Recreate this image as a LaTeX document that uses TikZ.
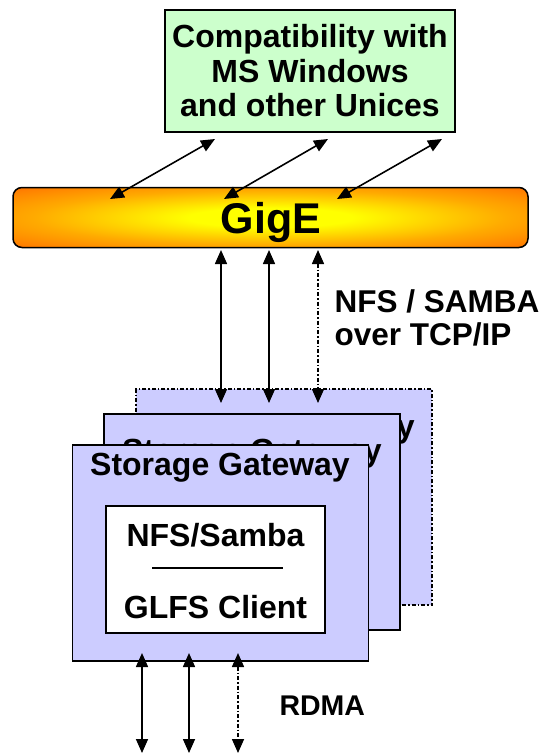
\documentclass[tikz,border=0pt]{standalone}
\usepackage{fontspec}
\setmainfont{Liberation Sans}
\usetikzlibrary{arrows.meta}
\definecolor{topgreen}{HTML}{CCFFCC}
\definecolor{lav}{HTML}{CCCCFF}
\definecolor{gA}{HTML}{FFFF00}
\definecolor{gB}{HTML}{FFDD00}
\definecolor{gC}{HTML}{FFAA00}
\definecolor{gD}{HTML}{FF8000}
\definecolor{gE}{HTML}{FF4400}
\definecolor{gF}{HTML}{FF3300}
\pgfdeclareradialshading{gigeshade}{\pgfpoint{0bp}{0bp}}{color(0bp)=(gA); color(8bp)=(gA); color(14bp)=(gB); color(23bp)=(gC); color(33bp)=(gD); color(41bp)=(gE); color(50bp)=(gF); color(75bp)=(gF)}
\tikzset{
  bf/.style={font=\bfseries\fontsize{#1}{#1}\selectfont},
  gwbox/.style={fill=lav, minimum width=296pt, minimum height=216pt, inner sep=0pt},
  arr/.style={line width=1.6pt, {Triangle[length=14pt,width=12pt]}-{Triangle[length=14pt,width=12pt]}},
  dd/.style={dash pattern=on 4pt off 2pt on 1.5pt off 2pt},
}
\begin{document}
\begin{tikzpicture}[x=1pt,y=-1pt]
\useasboundingbox (0,0) rectangle (549,756);
% top box
\node[draw, line width=1.5pt, fill=topgreen, minimum width=290pt, minimum height=122pt, inner sep=0pt, align=center, font=\bfseries\fontsize{32}{34.5}\selectfont] (compat) at (310,71) {Compatibility with\\MS Windows\\and other Unices};
% GigE bar
\node[draw, line width=1.5pt, rounded corners=9pt, shading=gigeshade, minimum width=515pt, minimum height=60pt, inner sep=0pt] (gige) at (270.5,217.5) {};
\node[bf=43, anchor=base] (gigetxt) at (271,233) {GigE};
% storage gateway stack
\node[gwbox, draw, line width=1.3pt, dd] (gwback) at (284,497) {};
\node[bf=32, anchor=base] (gwbacktxt) at (285,437.5) {Storage Gateway};
\node[gwbox, draw, line width=1.5pt] (gwmid) at (252,522) {};
\node[bf=32, anchor=base] (gwmidtxt) at (252,461.5) {Storage Gateway};
\node[gwbox, draw, line width=1.5pt] (gwfront) at (220.5,553) {};
\node[bf=32, anchor=base] (gwfronttxt) at (220,475) {Storage Gateway};
\node[draw, fill=white, line width=1.5pt, minimum width=219pt, minimum height=127pt, inner sep=0pt] (inner) at (215.5,569.5) {};
\node[bf=32, anchor=base] (nfs) at (215.5,546) {NFS/Samba};
\node[bf=32, anchor=base] (glfs) at (215.5,618) {GLFS Client};
\coordinate (sepL) at (152,568);
\coordinate (sepR) at (283,568);
\draw[line width=1.2pt] (sepL) -- (sepR);
% labels
\node[bf=31.5, anchor=base west] (tcp) at (331,312) {NFS / SAMBA};
\node[bf=31.5, anchor=base west] (tcp2) at (331,345) {over TCP/IP};
\node[bf=28.5, anchor=base west] (rdma) at (276,715) {RDMA};
% top arrows
\coordinate (a1b) at (110,199); \coordinate (a1t) at (215,139);
\coordinate (a2b) at (224,199); \coordinate (a2t) at (328,139);
\coordinate (a3b) at (337,199); \coordinate (a3t) at (442,139);
\draw[arr] (a1b) -- (a1t);
\draw[arr] (a2b) -- (a2t);
\draw[arr] (a3b) -- (a3t);
% middle arrows
\coordinate (m1t) at (221,250); \coordinate (m1b) at (221,403);
\coordinate (m2t) at (269,250); \coordinate (m2b) at (269,403);
\coordinate (m3t) at (318,250); \coordinate (m3b) at (318,403);
\draw[arr] (m1t) -- (m1b);
\draw[arr] (m2t) -- (m2b);
\draw[arr, dd] (m3t) -- (m3b);
% bottom arrows
\coordinate (b1t) at (142,653); \coordinate (b1b) at (142,753);
\coordinate (b2t) at (189,653); \coordinate (b2b) at (189,753);
\coordinate (b3t) at (238,653); \coordinate (b3b) at (238,753);
\draw[arr] (b1t) -- (b1b);
\draw[arr] (b2t) -- (b2b);
\draw[arr, dd] (b3t) -- (b3b);
\end{tikzpicture}
\end{document}
